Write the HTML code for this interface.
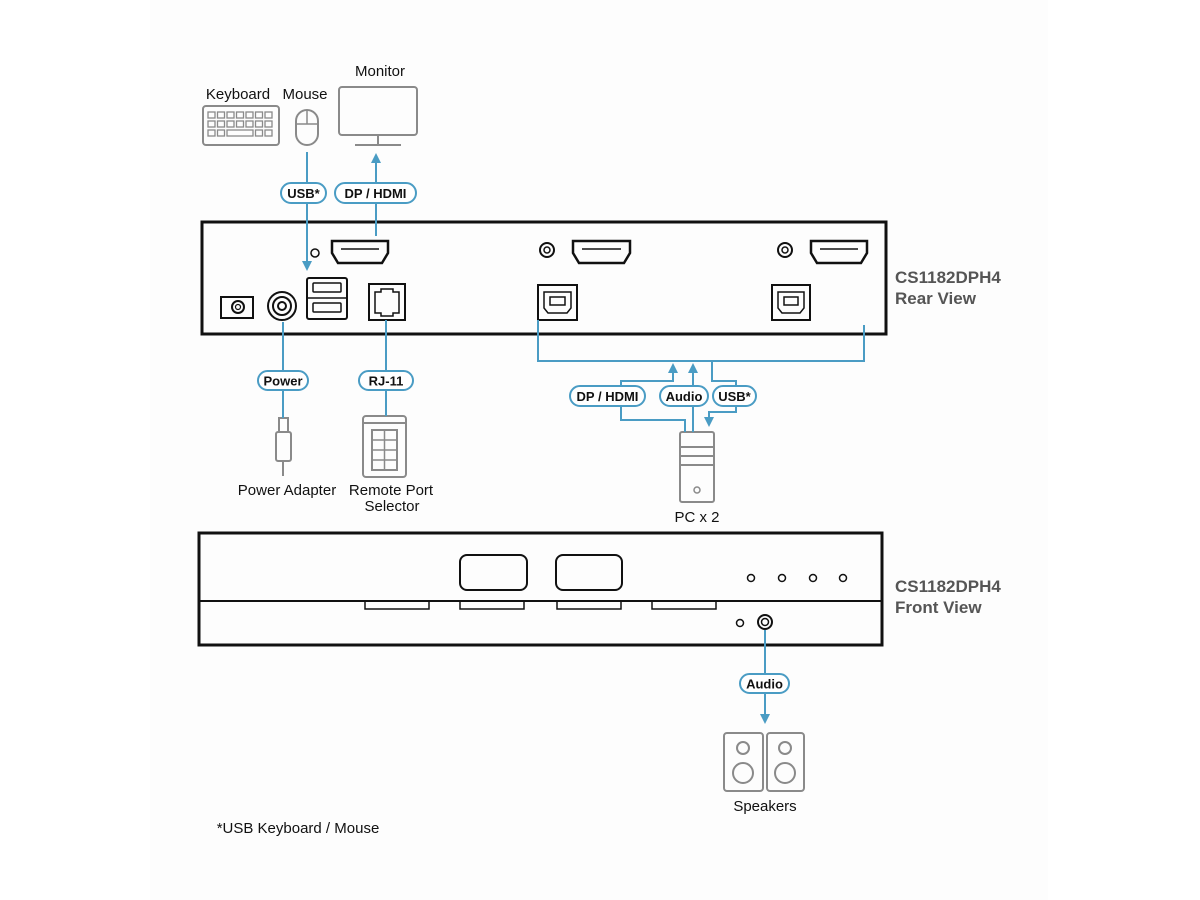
<!DOCTYPE html>
<html><head><meta charset="utf-8"><style>
html,body{margin:0;padding:0;background:#fff;}
svg{display:block;}
text{font-family:"Liberation Sans",Arial,sans-serif;}
</style></head><body>
<svg width="1200" height="900" viewBox="0 0 1200 900" xmlns="http://www.w3.org/2000/svg">
<rect x="150" y="0" width="898" height="900" fill="#fdfdfd"/>
<defs>
<marker id="ah" markerWidth="10" markerHeight="10" refX="5" refY="5" orient="auto" markerUnits="userSpaceOnUse">
<path d="M0,0 L10,5 L0,10 z" fill="#4a9cc4"/></marker>
</defs>
<g fill="none" stroke="#8a8a8a" stroke-width="2">
<rect x="203" y="106" width="76" height="39" rx="3"/>
<g stroke-width="1.3">
<rect x="208" y="112" width="7" height="6"/><rect x="217.5" y="112" width="7" height="6"/><rect x="227" y="112" width="7" height="6"/><rect x="236.5" y="112" width="7" height="6"/><rect x="246" y="112" width="7" height="6"/><rect x="255.5" y="112" width="7" height="6"/><rect x="265" y="112" width="7" height="6"/>
<rect x="208" y="121" width="7" height="6"/><rect x="217.5" y="121" width="7" height="6"/><rect x="227" y="121" width="7" height="6"/><rect x="236.5" y="121" width="7" height="6"/><rect x="246" y="121" width="7" height="6"/><rect x="255.5" y="121" width="7" height="6"/><rect x="265" y="121" width="7" height="6"/>
<rect x="208" y="130" width="7" height="6"/><rect x="217.5" y="130" width="7" height="6"/><rect x="227" y="130" width="26" height="6"/><rect x="255.5" y="130" width="7" height="6"/><rect x="265" y="130" width="7" height="6"/>
</g>
<rect x="296" y="110" width="22" height="35" rx="11"/>
<line x1="307" y1="110" x2="307" y2="124" stroke-width="1.5"/><line x1="296" y1="124" x2="318" y2="124" stroke-width="1.5"/>
<rect x="339" y="87" width="78" height="48" rx="3"/>
<line x1="378" y1="135" x2="378" y2="145"/><line x1="355" y1="145" x2="401" y2="145"/>
<rect x="279" y="418" width="9" height="14"/><rect x="276" y="432" width="15" height="29" rx="2"/><line x1="283" y1="461" x2="283" y2="476"/>
<rect x="363" y="416" width="43" height="61" rx="3"/><line x1="363" y1="423" x2="406" y2="423"/>
<rect x="372" y="430" width="25" height="40"/><line x1="384.5" y1="430" x2="384.5" y2="470" stroke-width="1.5"/>
<line x1="372" y1="440" x2="397" y2="440" stroke-width="1.5"/><line x1="372" y1="450" x2="397" y2="450" stroke-width="1.5"/><line x1="372" y1="460" x2="397" y2="460" stroke-width="1.5"/>
<rect x="680" y="432" width="34" height="70" rx="2"/>
<line x1="680" y1="447" x2="714" y2="447"/><line x1="680" y1="456" x2="714" y2="456"/><line x1="680" y1="465" x2="714" y2="465"/>
<circle cx="697" cy="490" r="3" stroke-width="1.5"/>
<rect x="724" y="733" width="39" height="58" rx="3"/><rect x="767" y="733" width="37" height="58" rx="3"/>
<circle cx="743" cy="748" r="6"/><circle cx="743" cy="773" r="10"/>
<circle cx="785" cy="748" r="6"/><circle cx="785" cy="773" r="10"/>
</g>
<g font-size="15" fill="#111" text-anchor="middle">
<text x="238" y="99">Keyboard</text><text x="305" y="99">Mouse</text><text x="380" y="76">Monitor</text>
<text x="287" y="495">Power Adapter</text><text x="391" y="495">Remote Port</text><text x="392" y="511">Selector</text>
<text x="697" y="522">PC x 2</text><text x="765" y="811">Speakers</text>
<text x="298" y="833">*USB Keyboard / Mouse</text>
</g>
<g font-size="17" font-weight="bold" fill="#555">
<text x="895" y="283">CS1182DPH4</text><text x="895" y="304">Rear View</text>
<text x="895" y="592">CS1182DPH4</text><text x="895" y="613">Front View</text>
</g>
<g fill="none" stroke="#111" stroke-width="2">
<rect x="202" y="222" width="684" height="112" stroke-width="3"/>
<circle cx="315" cy="253" r="4" stroke-width="1.5"/>
<path d="M332,241 H388 V253 L382,263 H338 L332,253 Z" stroke-width="2.5"/><path d="M341,249 H379" stroke-width="1.5"/>
<circle cx="547" cy="250" r="7"/><circle cx="547" cy="250" r="3" stroke-width="1.5"/>
<path d="M573,241 H630 V253 L624,263 H579 L573,253 Z" stroke-width="2.5"/><path d="M582,249 H621" stroke-width="1.5"/>
<circle cx="785" cy="250" r="7"/><circle cx="785" cy="250" r="3" stroke-width="1.5"/>
<path d="M811,241 H867 V253 L861,263 H817 L811,253 Z" stroke-width="2.5"/><path d="M820,249 H858" stroke-width="1.5"/>
<rect x="221" y="297" width="32" height="21"/><circle cx="238" cy="307" r="6"/><circle cx="238" cy="307" r="2.5" stroke-width="1.2"/>
<circle cx="282" cy="306" r="14"/><circle cx="282" cy="306" r="9"/><circle cx="282" cy="306" r="4"/>
<rect x="307" y="278" width="40" height="41" rx="2"/><rect x="313" y="283" width="28" height="9" rx="1" stroke-width="1.5"/><rect x="313" y="303" width="28" height="9" rx="1" stroke-width="1.5"/><line x1="307" y1="298" x2="347" y2="298" stroke-width="1.5"/>
<rect x="369" y="284" width="36" height="36"/><path d="M375,292 H381 V289 H393 V292 H399 V313 H393 V316 H381 V313 H375 Z" stroke-width="1.5"/>
<rect x="538" y="285" width="39" height="35"/><path d="M544,292 H571 V308 L567,313 H548 L544,308 Z" stroke-width="1.5"/><rect x="550" y="297" width="15" height="8" stroke-width="1.5"/>
<rect x="772" y="285" width="38" height="35"/><path d="M778,292 H804 V308 L800,313 H782 L778,308 Z" stroke-width="1.5"/><rect x="784" y="297" width="14" height="8" stroke-width="1.5"/>
</g>
<g fill="none" stroke="#111" stroke-width="2">
<rect x="199" y="533" width="683" height="112" stroke-width="3"/>
<line x1="199" y1="601" x2="882" y2="601"/>
<rect x="460" y="555" width="67" height="35" rx="7"/><rect x="556" y="555" width="66" height="35" rx="7"/>
<circle cx="751" cy="578" r="3.5" stroke-width="1.5"/><circle cx="782" cy="578" r="3.5" stroke-width="1.5"/><circle cx="813" cy="578" r="3.5" stroke-width="1.5"/><circle cx="843" cy="578" r="3.5" stroke-width="1.5"/>
<path d="M365,601 V609 H429 V601 M460,601 V609 H524 V601 M557,601 V609 H621 V601 M652,601 V609 H716 V601" stroke-width="1.5"/>
<circle cx="740" cy="623" r="3.5" stroke-width="1.5"/><circle cx="765" cy="622" r="7"/><circle cx="765" cy="622" r="3.5" stroke-width="1.5"/>
</g>
<g fill="none" stroke="#4a9cc4" stroke-width="2">
<line x1="307" y1="152" x2="307" y2="266" marker-end="url(#ah)"/>
<line x1="376" y1="236" x2="376" y2="158" marker-end="url(#ah)"/>
<line x1="283" y1="322" x2="283" y2="418"/>
<line x1="386" y1="320" x2="386" y2="416"/>
<path d="M538,320 V361 H864 V325"/>
<path d="M621,420 V381 H673 V368" marker-end="url(#ah)"/>
<path d="M621,406 V420 H685 V432"/>
<line x1="693" y1="432" x2="693" y2="368" marker-end="url(#ah)"/>
<path d="M712,361 V381 H736 V412 H709 V422" marker-end="url(#ah)"/>
<line x1="765" y1="630" x2="765" y2="719" marker-end="url(#ah)"/>
</g>
<g fill="#fff" stroke="#4a9cc4" stroke-width="2">
<rect x="281" y="183" width="45" height="20" rx="10"/>
<rect x="335" y="183" width="81" height="20" rx="10"/>
<rect x="258" y="371" width="50" height="19" rx="9.5"/>
<rect x="359" y="371" width="54" height="19" rx="9.5"/>
<rect x="570" y="386" width="75" height="20" rx="10"/>
<rect x="660" y="386" width="48" height="20" rx="10"/>
<rect x="713" y="386" width="43" height="20" rx="10"/>
<rect x="740" y="674" width="49" height="19" rx="9.5"/>
</g>
<g font-size="13" font-weight="bold" fill="#111" text-anchor="middle">
<text x="303.5" y="198">USB*</text><text x="375.5" y="198">DP / HDMI</text>
<text x="283" y="385.5">Power</text><text x="386" y="385.5">RJ-11</text>
<text x="607.5" y="401">DP / HDMI</text><text x="684" y="401">Audio</text><text x="734.5" y="401">USB*</text>
<text x="764.5" y="688.5">Audio</text>
</g>
</svg>
</body></html>
